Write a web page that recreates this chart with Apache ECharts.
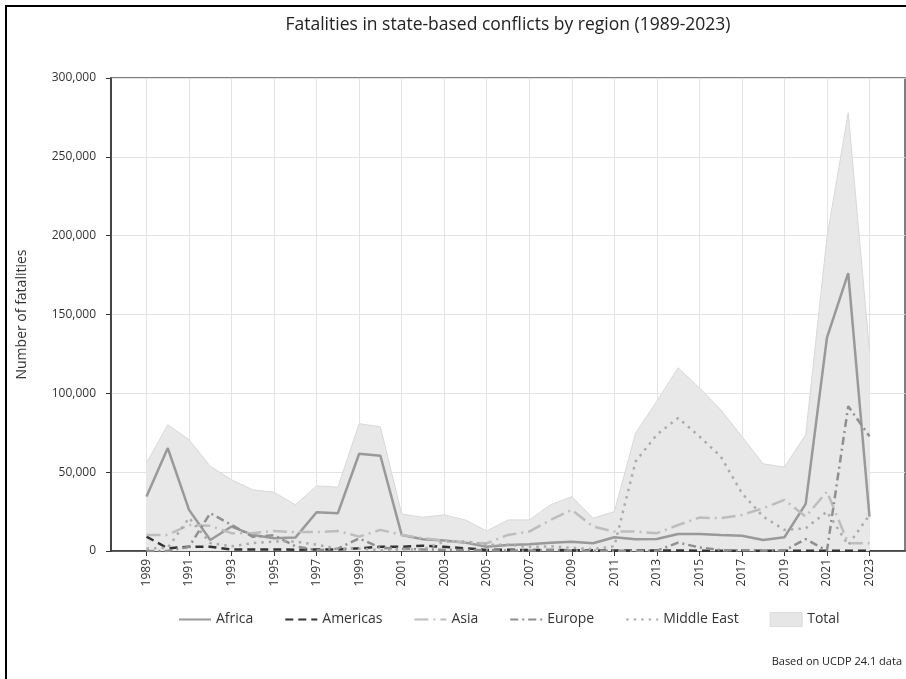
<!DOCTYPE html>
<html>
<head>
<meta charset="utf-8">
<script src="https://cdn.jsdelivr.net/npm/echarts@6/dist/echarts.min.js"></script>
<style>html,body{margin:0;padding:0;background:#fff}#c{width:906px;height:679px}</style>
</head>
<body>
<div id="c"></div>
<script>
const years = [1989,1990,1991,1992,1993,1994,1995,1996,1997,1998,1999,2000,2001,2002,2003,2004,2005,2006,2007,2008,2009,2010,2011,2012,2013,2014,2015,2016,2017,2018,2019,2020,2021,2022,2023];
const tickYears = [1989,1991,1993,1995,1997,1999,2001,2003,2005,2007,2009,2011,2013,2015,2017,2019,2021,2023];
const yTicks = [0,50000,100000,150000,200000,250000,300000];
const africa = [34500,65300,26100,7000,15500,10200,8100,8500,24600,24000,61700,60400,10200,7400,6600,5300,2700,3800,4300,5300,5900,4900,8700,7400,7600,10800,10800,10200,9700,7000,8700,29900,135300,176200,21800];
const americas = [9100,1700,2700,2700,1000,1000,1000,800,1000,1000,1700,2700,2700,3400,2700,1700,700,800,600,700,500,400,300,400,300,300,200,200,100,100,100,100,100,100,100];
const asia = [10200,10200,16500,16000,11300,11300,12700,12000,12000,12700,9100,13400,10200,8100,6600,5500,4900,10200,12300,19700,26100,15500,12300,12300,11300,16500,21200,20800,22900,27100,32400,21800,37700,4900,4900];
const europe = [0,0,2700,24000,16500,9000,10000,3000,500,1500,8000,2000,1500,1000,800,600,500,300,300,500,300,200,200,200,200,5300,2300,500,500,300,300,7500,200,91800,72700];
const middleEast = [1500,2000,21000,5000,3000,5000,6000,6000,4000,1500,1500,500,1000,1000,6000,6000,4000,4000,2500,3000,2000,1200,3000,56800,73800,84400,72700,60000,36700,21800,13400,14400,25000,3800,22900];
const total = [55800,80100,70600,53700,45200,38800,37300,29300,41300,40500,80800,78700,23500,21400,22900,19700,12700,19700,19700,29300,34500,20800,25000,74800,95000,116200,103500,89700,72700,55300,53200,73800,199000,278000,126800];

const pair = arr => years.map((y, i) => [y, arr[i]]);
const FONT = 'Open Sans';

const chart = echarts.init(document.getElementById('c'));
chart.setOption({
  animation: false,
  textStyle: { fontFamily: FONT },
  title: {
    text: 'Fatalities in state-based conflicts by region (1989-2023)',
    left: 503, top: 11, textAlign: 'center',
    textStyle: { fontFamily: FONT, fontSize: 17.5, fontWeight: 'normal', color: '#222' }
  },
  grid: {
    left: 111, right: 1, top: 78, bottom: 128,
    show: true, borderColor: '#555', borderWidth: 1.5, backgroundColor: 'transparent'
  },
  legend: {
    left: 173, top: 607,
    itemWidth: 32, itemHeight: 14, itemGap: 31,
    itemStyle: { opacity: 0 },
    textStyle: { fontFamily: FONT, fontSize: 14, color: '#333' },
    data: [
      { name: 'Africa' }, { name: 'Americas' }, { name: 'Asia' }, { name: 'Europe' }, { name: 'Middle East' },
      { name: 'Total', icon: 'rect', itemStyle: { color: '#e6e6e6', opacity: 1, borderColor: '#dcdcdc', borderWidth: 1 } }
    ]
  },
  xAxis: {
    type: 'value', min: 1987.33, max: 2024.67,
    axisLine: { show: true, onZero: false, lineStyle: { color: '#333', width: 1.5 } },
    axisTick: { show: true, customValues: tickYears, length: 5, lineStyle: { color: '#333' } },
    axisLabel: { customValues: tickYears, rotate: 90, fontSize: 12, color: '#333', margin: 8, formatter: v => String(v) },
    splitLine: { show: true, lineStyle: { color: '#e3e3e3', width: 1 } }
  },
  yAxis: {
    type: 'value', min: yTicks[0], max: yTicks[yTicks.length - 1], interval: 50000,
    name: 'Number of fatalities', nameLocation: 'middle', nameGap: 82, nameRotate: 90,
    nameTextStyle: { fontFamily: FONT, fontSize: 14, color: '#333' },
    axisLine: { show: true, lineStyle: { color: '#333', width: 1.5 } },
    axisTick: { show: true, length: 5, lineStyle: { color: '#333' } },
    axisLabel: { fontSize: 12, color: '#333', margin: 15 },
    splitLine: { show: true, lineStyle: { color: '#e3e3e3', width: 1 } }
  },
  graphic: [
    { type: 'rect', shape: { x: 6, y: 6, width: 920, height: 700 }, style: { fill: 'none', stroke: '#000', lineWidth: 2 }, silent: true },
    { type: 'text', right: 4, top: 656, style: { text: 'Based on UCDP 24.1 data', font: '11px "Open Sans"', fill: '#222' } }
  ],
  series: [
    { name: 'Total', type: 'line', data: pair(total), symbol: 'none', z: 1,
      lineStyle: { color: '#d8d8d8', width: 1 }, itemStyle: { color: '#e6e6e6' },
      areaStyle: { color: '#e8e8e8', opacity: 1 } },
    { name: 'Africa', type: 'line', data: pair(africa), symbol: 'none', z: 3,
      lineStyle: { color: '#999999', width: 2.5 }, itemStyle: { color: '#999999' } },
    { name: 'Americas', type: 'line', data: pair(americas), symbol: 'none', z: 3,
      lineStyle: { color: '#333333', width: 2.5, type: [8, 5] }, itemStyle: { color: '#333333' } },
    { name: 'Asia', type: 'line', data: pair(asia), symbol: 'none', z: 3,
      lineStyle: { color: '#bdbdbd', width: 2.5, type: [14, 5, 2, 5] }, itemStyle: { color: '#bdbdbd' } },
    { name: 'Europe', type: 'line', data: pair(europe), symbol: 'none', z: 3,
      lineStyle: { color: '#8f8f8f', width: 2.5, type: [8, 4, 2, 4] }, itemStyle: { color: '#8f8f8f' } },
    { name: 'Middle East', type: 'line', data: pair(middleEast), symbol: 'none', z: 3,
      lineStyle: { color: '#ababab', width: 2.5, type: [2.5, 5] }, itemStyle: { color: '#ababab' } }
  ]
});
</script>
</body>
</html>
